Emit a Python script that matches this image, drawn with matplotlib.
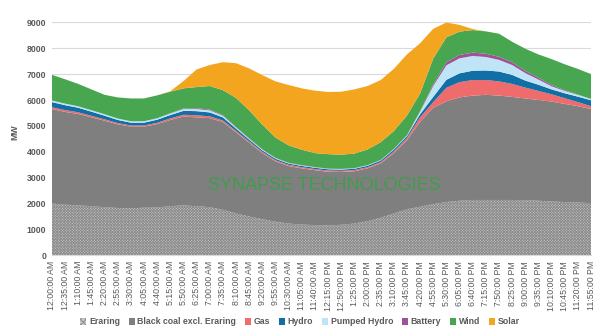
import numpy as np
import matplotlib
matplotlib.use('Agg')
import matplotlib.pyplot as plt
from matplotlib.patches import Patch

plt.rcParams['font.family'] = ['Liberation Sans', 'DejaVu Sans']
plt.rcParams['hatch.linewidth'] = 0.6

############################ DATA (MW, every 35 min) #########################
times = ['12:00:00 AM', '12:35:00 AM', '1:10:00 AM', '1:45:00 AM', '2:20:00 AM', '2:55:00 AM',
         '3:30:00 AM', '4:05:00 AM', '4:40:00 AM', '5:15:00 AM', '5:50:00 AM', '6:25:00 AM',
         '7:00:00 AM', '7:35:00 AM', '8:10:00 AM', '8:45:00 AM', '9:20:00 AM', '9:55:00 AM',
         '10:30:00 AM', '11:05:00 AM', '11:40:00 AM', '12:15:00 PM', '12:50:00 PM', '1:25:00 PM',
         '2:00:00 PM', '2:35:00 PM', '3:10:00 PM', '3:45:00 PM', '4:20:00 PM', '4:55:00 PM',
         '5:30:00 PM', '6:05:00 PM', '6:40:00 PM', '7:15:00 PM', '7:50:00 PM', '8:25:00 PM',
         '9:00:00 PM', '9:35:00 PM', '10:10:00 PM', '10:45:00 PM', '11:20:00 PM', '11:55:00 PM']

eraring = [2000, 1960, 1930, 1900, 1860, 1830, 1820, 1840, 1850, 1900, 1930, 1900, 1860, 1760,
           1620, 1500, 1400, 1300, 1230, 1190, 1170, 1160, 1180, 1230, 1320, 1450, 1620, 1780,
           1880, 1980, 2060, 2110, 2140, 2140, 2140, 2140, 2130, 2110, 2080, 2060, 2040, 2020]
black_coal = [3650, 3580, 3530, 3430, 3340, 3230, 3150, 3130, 3220, 3330, 3430, 3430, 3440, 3390,
              3130, 2850, 2550, 2330, 2220, 2170, 2120, 2070, 2040, 2020, 2040, 2100, 2330, 2670,
              3280, 3720, 3890, 3990, 4030, 4060, 4030, 3980, 3930, 3890, 3860, 3790, 3720, 3630]
gas = [70, 70, 65, 60, 55, 50, 45, 45, 50, 60, 70, 80, 70, 60, 55, 50, 45, 45, 45, 45, 45,
       45, 45, 45, 45, 50, 60, 80, 170, 220, 520, 590, 600, 570, 550, 500, 420, 350, 280, 220, 160, 110]
hydro = [200, 190, 175, 160, 140, 120, 110, 110, 120, 130, 150, 160, 150, 120, 90, 70, 60, 55, 50, 50, 50,
         50, 50, 50, 55, 60, 70, 70, 120, 200, 310, 340, 360, 370, 380, 350, 270, 240, 190, 190, 210, 230]
pumped_hydro = [60, 60, 55, 55, 55, 55, 55, 55, 55, 60, 70, 80, 80, 60, 45, 35, 30, 25, 20, 20, 20,
                20, 20, 20, 20, 20, 25, 30, 100, 420, 560, 580, 570, 520, 450, 380, 290, 200, 120, 90, 70, 50]
battery = [0, 0, 0, 0, 0, 0, 0, 0, 0, 10, 20, 30, 30, 20, 15, 10, 10, 10, 10, 10, 5,
           5, 5, 5, 5, 5, 5, 10, 20, 60, 120, 130, 130, 125, 120, 110, 85, 70, 50, 30, 10, 0]
wind = [990, 940, 865, 805, 750, 815, 880, 880, 885, 830, 780, 820, 910, 970, 1125, 1085, 955, 785, 675,
        595, 540, 560, 550, 560, 605, 685, 690, 760, 680, 1000, 960, 900, 870, 865, 890, 790, 855, 900,
        1000, 1000, 990, 960]
solar = [0, 0, 0, 0, 0, 0, 0, 0, 0, 20, 280, 680, 810, 1080, 1340, 1620, 1910, 2170, 2330, 2370, 2410,
         2400, 2430, 2480, 2450, 2400, 2400, 2360, 1940, 1150, 570, 260, 40, 0, 0, 0, 0, 0, 0, 0, 0, 0]

labels = ['Eraring', 'Black coal excl. Eraring', 'Gas', 'Hydro', 'Pumped Hydro', 'Battery', 'Wind', 'Solar']
colors = ['#c4c4c4', '#7f7f7f', '#f06b6b', '#116fa6', '#bfe4f6', '#a2509a', '#48a650', '#f3a51f']
##############################################################################

x = np.arange(len(times))
series = [eraring, black_coal, gas, hydro, pumped_hydro, battery, wind, solar]

fig = plt.figure(figsize=(6, 3.35), dpi=100)
ax = fig.add_axes([52 / 600, 1 - 255.4 / 335, 539 / 600, 233.1 / 335])

polys = ax.stackplot(x, *series, colors=colors, linewidth=0)
polys[0].set_hatch('xxxxxxxxxxxx')
polys[0].set_edgecolor('#8c8c8c')

ax.set_xlim(0, len(times) - 1)
ax.set_ylim(0, 9000)
ax.set_yticks(np.arange(0, 9001, 1000))
ax.set_xticks(x)
ax.set_xticklabels(times, rotation=90, fontsize=6.3, color='#595959')
for lbl in ax.get_yticklabels():
    lbl.set_fontsize(6.3)
    lbl.set_fontweight('bold')
    lbl.set_color('#595959')
ax.tick_params(length=0, pad=4)
ax.yaxis.grid(True, color='#d9d9d9', lw=0.8)
ax.set_axisbelow(True)
for s in ['top', 'right', 'left']:
    ax.spines[s].set_visible(False)
ax.spines['bottom'].set_color('#d9d9d9')

fig.text(15 / 600, 1 - 132 / 335, 'MW', rotation=90, fontsize=6.3, fontweight='bold',
         color='#595959', ha='center', va='center')

ax.text(0.506, 0.298, 'SYNAPSE TECHNOLOGIES', transform=ax.transAxes, fontsize=13,
        color='#3aa047', alpha=0.9, ha='center', va='center')

handles = [Patch(facecolor=c, edgecolor='none') for c in colors]
handles[0] = Patch(facecolor=colors[0], edgecolor='#8c8c8c', hatch='xxxxxx', linewidth=0)
fig.legend(handles, labels, loc='center', bbox_to_anchor=(0.5, 1 - 322 / 335), ncol=8,
           frameon=False, fontsize=6.3, handlelength=0.7, handleheight=0.7,
           handletextpad=0.3, columnspacing=1.0, labelcolor='#595959',
           prop={'weight': 'bold', 'size': 6.3})

fig.savefig('out.png', dpi=100)
